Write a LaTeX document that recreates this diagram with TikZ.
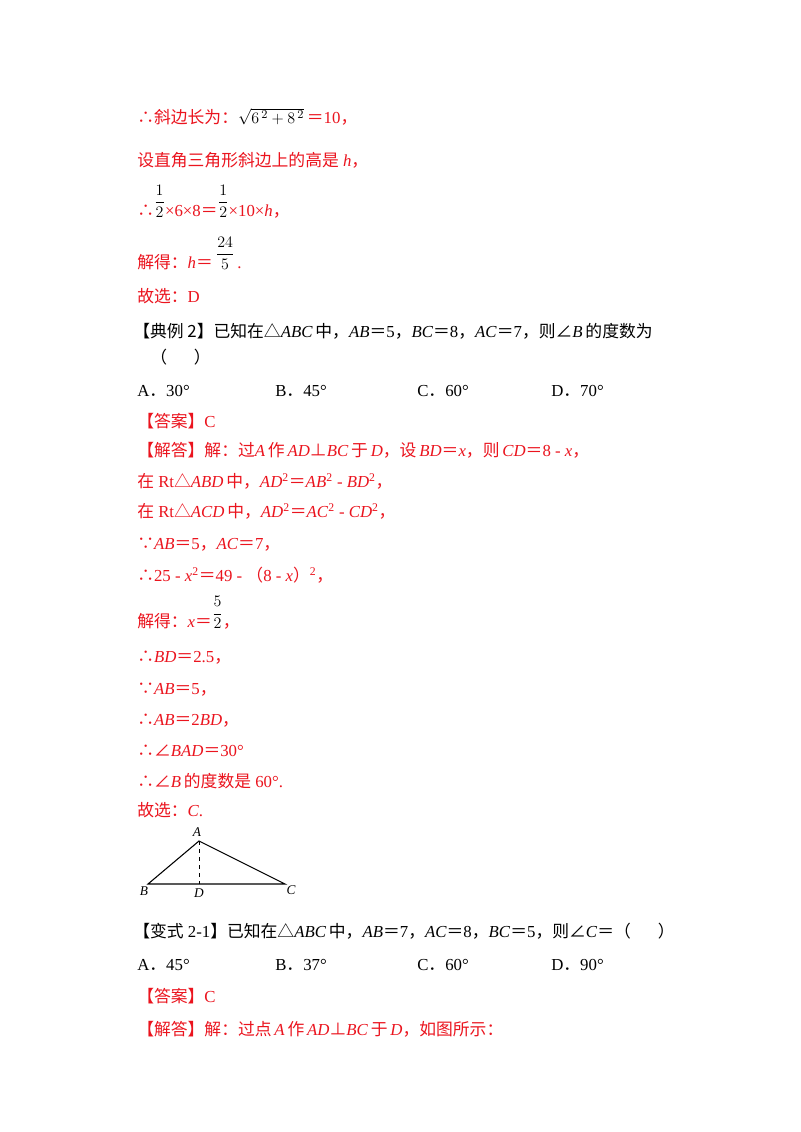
\documentclass[tikz,border=0pt]{standalone}
\usepackage{fontspec}
\setmainfont{Liberation Serif}
\newfontfamily\cjk{Noto Sans CJK SC}
\newcommand\cj[1]{{\cjk #1}}
\newcommand\upfrac[2]{\raisebox{0.55em}{\color{black}$\displaystyle\frac{#1}{#2}$}}
\definecolor{ansred}{RGB}{235,20,30}
\begin{document}
\begin{tikzpicture}[x=0.75pt,y=-0.75pt,
  L/.style={anchor=base west,inner sep=0,font=\fontsize{12.6}{14}\selectfont},
  R/.style={L,text=ansred},
  lab/.style={inner sep=0,font=\fontsize{10}{12}\selectfont\itshape}]
\fill[white] (0,0) rectangle (800,1132);
\node[R] (l1) at (137,123) {\cj{∴斜边长为：}{\color{black}$\sqrt{6^{\,2}+8^{\,2}}$}\,\cj{＝}10\cj{，}};
\node[R] (l2) at (137,166) {\cj{设直角三角形斜边上的高是} \textit{h}\cj{，}};
\node[R] (l3) at (137,216) {\cj{∴}\upfrac{1}{2}×6×8\cj{＝}\upfrac{1}{2}×10×\textit{h}\cj{，}};
\node[R] (l4) at (137,268) {\cj{解得：}\textit{h}\cj{＝}\,\upfrac{24}{5}\,.};
\node[R] (l5) at (137,302) {\cj{故选：}D};
\node[L] (l6) at (133,337) {\cj{【典例 2】已知在△}\textit{ABC}\,\cj{中，}\textit{AB}\cj{＝}5\cj{，}\textit{BC}\cj{＝}8\cj{，}\textit{AC}\cj{＝}7\cj{，则∠}\textit{B}\,\cj{的度数为}};
\node[L] (l7) at (150,363) {\cj{（\hspace{1.6em}）}};
\node[L] (oa) at (137,396) {A\cj{．}30°};
\node[L] (ob) at (275,396) {B\cj{．}45°};
\node[L] (oc) at (417,396) {C\cj{．}60°};
\node[L] (od) at (551,396) {D\cj{．}70°};
\node[R] (l9) at (137,427) {\cj{【答案】}C};
\node[R] (l10) at (137,456) {\cj{【解答】解：过}\textit{A}\,\cj{作}\,\textit{AD}\cj{⊥}\textit{BC}\,\cj{于}\,\textit{D}\cj{，设}\,\textit{BD}\cj{＝}\textit{x}\cj{，则}\,\textit{CD}\cj{＝}8 - \textit{x}\cj{，}};
\node[R] (l11) at (137,487) {\cj{在} Rt\cj{△}\textit{ABD}\,\cj{中，}\textit{AD}\textsuperscript{2}\cj{＝}\textit{AB}\textsuperscript{2} - \textit{BD}\textsuperscript{2}\cj{，}};
\node[R] (l12) at (137,517) {\cj{在} Rt\cj{△}\textit{ACD}\,\cj{中，}\textit{AD}\textsuperscript{2}\cj{＝}\textit{AC}\textsuperscript{2} - \textit{CD}\textsuperscript{2}\cj{，}};
\node[R] (l13) at (137,549) {\cj{∵}\textit{AB}\cj{＝}5\cj{，}\textit{AC}\cj{＝}7\cj{，}};
\node[R] (l14) at (137,581) {\cj{∴}25 - \textit{x}\textsuperscript{2}\cj{＝}49 - \cj{（}8 - \textit{x}\cj{）}\textsuperscript{2}\cj{，}};
\node[R] (l15) at (137,627) {\cj{解得：}\textit{x}\cj{＝}\upfrac{5}{2}\cj{，}};
\node[R] (l16) at (137,662) {\cj{∴}\textit{BD}\cj{＝}2.5\cj{，}};
\node[R] (l17) at (137,694) {\cj{∵}\textit{AB}\cj{＝}5\cj{，}};
\node[R] (l18) at (137,725) {\cj{∴}\textit{AB}\cj{＝}2\textit{BD}\cj{，}};
\node[R] (l19) at (137,756) {\cj{∴∠}\textit{BAD}\cj{＝}30°};
\node[R] (l20) at (137,787) {\cj{∴∠}\textit{B}\,\cj{的度数是} 60°.};
\node[R] (l21) at (137,816) {\cj{故选：}\textit{C}.};
\coordinate (A) at (199,841);
\coordinate (B) at (148,884);
\coordinate (C) at (285,884);
\coordinate (D) at (199,884);
\draw[line width=0.8pt] (B) -- (A) -- (C) -- cycle;
\draw[dashed,line width=0.7pt] (A) -- (D);
\node[lab] (lA) at (197,832) {A};
\node[lab] (lB) at (144,891) {B};
\node[lab] (lD) at (199,893) {D};
\node[lab] (lC) at (291,890) {C};
\node[L] (l22) at (133,937) {\cj{【变式} 2-1\cj{】已知在△}\textit{ABC}\,\cj{中，}\textit{AB}\cj{＝}7\cj{，}\textit{AC}\cj{＝}8\cj{，}\textit{BC}\cj{＝}5\cj{，则∠}\textit{C}\cj{＝（\hspace{1.6em}）}};
\node[L] (pa) at (137,970) {A\cj{．}45°};
\node[L] (pb) at (275,970) {B\cj{．}37°};
\node[L] (pc) at (417,970) {C\cj{．}60°};
\node[L] (pd) at (551,970) {D\cj{．}90°};
\node[R] (l24) at (137,1002) {\cj{【答案】}C};
\node[R] (l25) at (137,1035) {\cj{【解答】解：过点}\,\textit{A}\,\cj{作}\,\textit{AD}\cj{⊥}\textit{BC}\,\cj{于}\,\textit{D}\cj{，如图所示：}};
\end{tikzpicture}
\end{document}
